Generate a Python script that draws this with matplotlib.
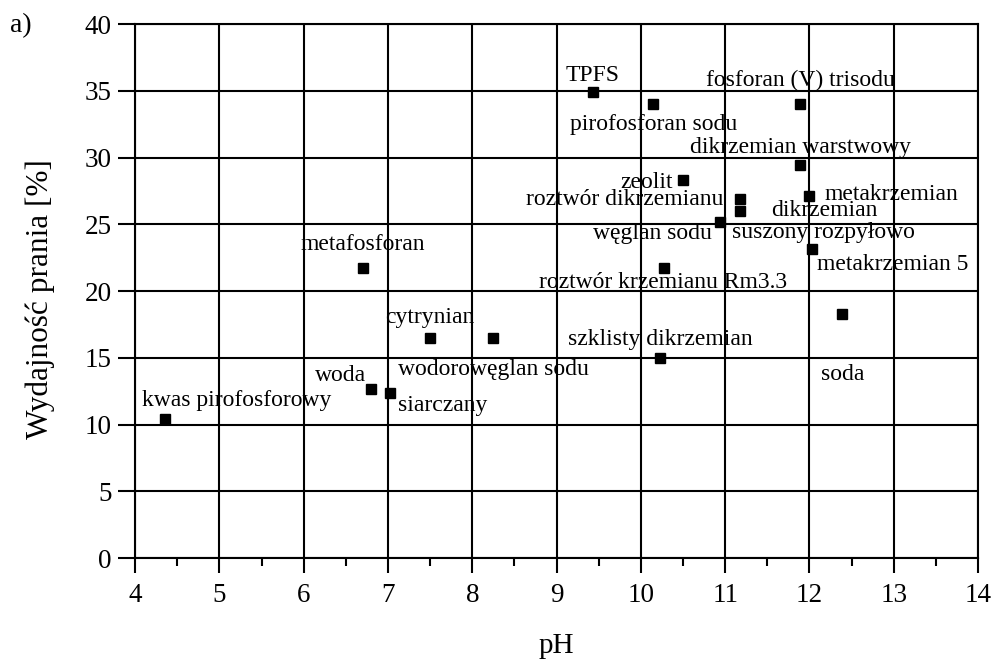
import matplotlib
matplotlib.use('Agg')
from matplotlib import pyplot as plt
from matplotlib.ticker import MultipleLocator

# pH and washing efficiency
names = ['TPFS', 'pirofosforan sodu', 'fosforan (V) trisodu', 'dikrzemian warstwowy',
         'zeolit', 'roztwór dikrzemianu', 'metakrzemian', 'dikrzemian',
         'węglan sodu', 'metakrzemian 5', 'roztwór krzemianu Rm3.3', 'metafosforan',
         'soda', 'cytrynian', 'szklisty dikrzemian', 'wodorowęglan sodu',
         'woda', 'siarczany', 'kwas pirofosforowy']
ph = [9.43, 10.14, 11.89, 11.89, 10.5, 11.17, 11.99, 11.17, 10.94, 12.03,
      10.27, 6.7, 12.38, 7.5, 10.23, 8.25, 6.8, 7.02, 4.36]
wyd = [34.9, 34.05, 34.05, 29.45, 28.3, 26.9, 27.15, 26.0, 25.15, 23.15,
       21.7, 21.75, 18.3, 16.45, 15.0, 16.45, 12.7, 12.4, 10.4]

# label offsets from each point (pixels, x right / y up)
offs = [(0, 17), (1, -21), (0, 23), (0, 17), (-36, -2), (-115, -1), (83, 1), (85, 0),
        (-68, -11), (81, -15), (-1, -14), (0, 23), (1, -61), (0, 21), (0, 18),
        (0, -31), (-31, 13), (53, -13), (71, 19)]
extra = [('suszony rozpyłowo', 7, (84, -22))]

plt.rcParams['font.family'] = ['Liberation Serif', 'DejaVu Serif']

fig = plt.figure(figsize=(9.93, 6.6), dpi=100)
ax = fig.add_axes([0.136, 0.1545, 0.849, 0.809])

ax.plot(ph, wyd, 's', color='black', markersize=6.5, zorder=3)

px = 72.0 / 100
for i, name in enumerate(names):
    ax.annotate(name, (ph[i], wyd[i]), xytext=(offs[i][0] * px, offs[i][1] * px),
                textcoords='offset points', ha='center', va='center', fontsize=17)
for txt, i, o in extra:
    ax.annotate(txt, (ph[i], wyd[i]), xytext=(o[0] * px, o[1] * px),
                textcoords='offset points', ha='center', va='center', fontsize=17)

ax.set_xlim(4, 14)
ax.set_ylim(0, 40)
ax.xaxis.set_major_locator(MultipleLocator(1))
ax.xaxis.set_minor_locator(MultipleLocator(0.5))
ax.yaxis.set_major_locator(MultipleLocator(5))
ax.grid(True, which='major', color='black', linewidth=1.5)
ax.set_axisbelow(True)
for s in ax.spines.values():
    s.set_linewidth(1.5)
ax.tick_params(which='major', direction='out', width=1.5, labelsize=19.5)
ax.tick_params(axis='x', which='major', length=11, pad=7)
ax.tick_params(axis='y', which='major', length=12, pad=5)
ax.tick_params(which='minor', direction='out', length=6, width=1.5)

ax.set_xlabel('pH', fontsize=21, labelpad=18)
ax.set_ylabel('Wydajność prania [%]', fontsize=22.5, labelpad=20)
ax.yaxis.set_label_coords(-0.095, 0.485)
fig.text(0.01, 0.952, 'a)', fontsize=20)

fig.savefig('out.png', dpi=100)
